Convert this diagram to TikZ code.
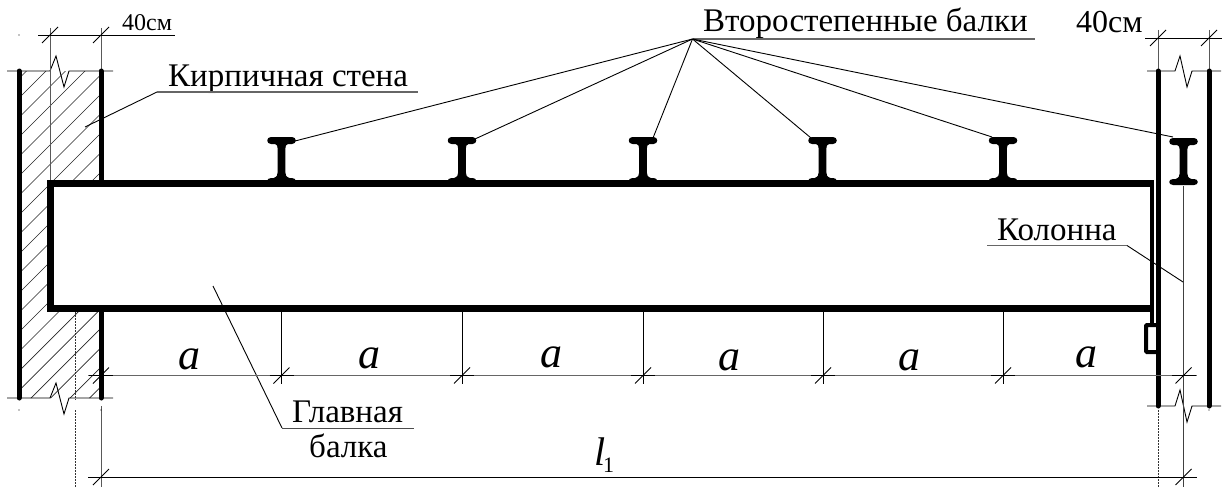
\documentclass[tikz,border=0pt]{standalone}
\usepackage{fontspec}
\setmainfont{Liberation Serif}
\newcommand{\ibeam}[4]{% x, ytop, height, name
  \fill[shift={(#1,#2)}] (-10.5,0) -- (10.5,0) .. controls (15.5,0) and (15.5,7) .. (10.5,7) -- (6.5,7)
   .. controls (4.5,7.5) and (3.8,9) .. (3.8,12) -- (3.8,#3-12)
   .. controls (3.8,#3-9) and (4.5,#3-7) .. (8,#3-6) -- (10.5,#3-6)
   .. controls (15.5,#3-6) and (15.5,#3) .. (10.5,#3) -- (-10.5,#3)
   .. controls (-15.5,#3) and (-15.5,#3-6) .. (-10.5,#3-6) -- (-8,#3-6)
   .. controls (-4.5,#3-7) and (-3.8,#3-9) .. (-3.8,#3-12) -- (-3.8,12)
   .. controls (-3.8,9) and (-4.5,7.5) .. (-6.5,7) -- (-10.5,7)
   .. controls (-15.5,7) and (-15.5,0) .. (-10.5,0) -- cycle;
  \coordinate (#4) at (#1,#2);}
\newcommand{\dimtick}[2]{\draw[thinline] (#1-8,#2+8) -- (#1+8,#2-8);}
\tikzset{
  wall/.style={line width=5pt,line cap=round},
  beamline/.style={line width=7pt,line join=miter},
  thinline/.style={line width=0.9pt,black},
  extline/.style={line width=1pt,black!65},
  ulgray/.style={line width=1.1pt,black!60},
  dotline/.style={line width=0.8pt,dash pattern=on 1.6pt off 1.4pt,black!80},
  hatchline/.style={line width=0.7pt,black!85},
  lab/.style={inner sep=0pt,anchor=base west,font=\fontsize{33}{33}\selectfont},
  ital/.style={inner sep=0pt,anchor=base,font=\fontsize{44}{44}\selectfont\itshape}
}
\begin{document}
\begin{tikzpicture}[x=1pt,y=-1pt]
\useasboundingbox (0,0) rectangle (1225,487);
\fill[white] (0,0) rectangle (1225,487);
% hatch
\begin{scope}
\clip (21,71) -- (99,71) -- (99,181) -- (47,181) -- (47,311) -- (99,311) -- (99,398) -- (21,398) -- cycle;
\foreach \k in {0,...,20} {
  \pgfmathsetmacro{\c}{97.5+19.5*\k}
  \draw[hatchline] (0,\c) -- (\c,0);
}
\end{scope}
% break lines
\draw[thinline] (7,71) -- (50,71) -- (56,56) -- (64,87) -- (69,71) -- (113,71);
\draw[thinline] (7,398) -- (50,398) -- (56,383) -- (64,414) -- (69,398) -- (113,398);
\draw[thinline] (1147,71) -- (1175,71) -- (1180,56) -- (1187,87) -- (1192,71) -- (1221,71);
\draw[thinline] (1147,406) -- (1175,406) -- (1180,390) -- (1187,422) -- (1192,406) -- (1221,406);
% extension lines
\draw[extline] (50,28) -- (50,183);
\draw[extline] (101,28) -- (101,71);
\draw[extline] (101,406) -- (101,487);
\draw[extline] (1158,30) -- (1158,71);
\draw[extline] (1209,30) -- (1209,71);
\draw[thinline,black!75] (1183.5,186) -- (1183.5,487);
\foreach \x in {281.5,462,643,823,1003} \draw[thinline] (\x,312) -- (\x,384);
\draw[dotline] (75,312) -- (75,400);
\draw[dotline] (75,410) -- (75,487);
\draw[dotline] (1158,410) -- (1158,487);
\fill (19,35) circle (0.6);
\fill (19,410) circle (0.6);
\fill (101,410) circle (0.6);
\fill (1209,410) circle (0.6);
% walls and columns
\draw[wall] (19,71) -- (19,398);
\draw[wall] (101,71) -- (101,183);
\draw[wall] (101,310) -- (101,398);
\draw[wall] (1158,71) -- (1158,406);
\draw[wall] (1209,71) -- (1209,406);
% leader behind the beam
\coordinate (glA) at (213,286);
\coordinate (glB) at (282,428);
\coordinate (glC) at (414,428);
\draw[thinline] (glA) -- (glB);
\draw[thinline,black!70] (glB) -- (glC);
% main beam
\draw[beamline] (1152,183.5) -- (50,183.5) -- (50,308.5) -- (1152,308.5);
\draw[line width=4pt] (1152,180) -- (1152,325);
\draw[line width=4pt,rounded corners=1pt] (1158,325) -- (1146,325) -- (1146,352) -- (1158,352);
% secondary beams
\ibeam{281.5}{137}{47}{ib1}
\ibeam{462}{137}{47}{ib2}
\ibeam{643}{137}{47}{ib3}
\ibeam{822.5}{137}{47}{ib4}
\ibeam{1003}{137}{47}{ib5}
\ibeam{1183.5}{138}{47}{ib6}
% labels
\node[lab] (vb) at (703,32) {Второстепенные балки};
\node[lab] (ks) at (168,86) {Кирпичная стена};
\node[lab] (kl) at (997,240) {Колонна};
\node[lab] (gl) at (292,422) {Главная};
\node[lab] (bl) at (309,457) {балка};
\node[lab,font=\fontsize{32}{32}\selectfont] (d2) at (1076,33) {40см};
\node[lab,font=\fontsize{24}{24}\selectfont] (d1) at (122,31) {40см};
% leaders
\coordinate (apex) at (692.5,39);
\coordinate (vbEnd) at (1035,39);
\draw[ulgray] (apex) -- (vbEnd);
\draw[thinline] (apex) -- (295,141);
\draw[thinline] (apex) -- (475,139);
\draw[thinline] (apex) -- (653,138);
\draw[thinline] (apex) -- (811,138);
\draw[thinline] (apex) -- (992,137);
\draw[thinline] (apex) -- (1173,137);
\coordinate (ksA) at (157,92);
\draw[thinline] (85,127) -- (ksA);
\draw[ulgray] (ksA) -- (418,92);
\coordinate (klA) at (1127,245.5);
\draw[ulgray] (987,245.5) -- (klA);
\draw[thinline] (klA) -- (1183,282);
% dimension lines
\draw[thinline] (38,35) -- (175,35);
\dimtick{50}{35}\dimtick{101}{35}
\draw[thinline] (1145,38) -- (1222,38);
\dimtick{1158}{38}\dimtick{1209}{38}
\draw[ulgray] (88,375.5) -- (1197,375.5);
\foreach \x in {101,281.5,462,643,823,1003,1183.5} {\dimtick{\x}{375.5}\draw[thinline] (\x-12,375.5) -- (\x+12,375.5);}
\draw[thinline] (88,477) -- (1197,477);
\dimtick{101}{477}\dimtick{1183.5}{477}
% a labels
\node[ital] (a1) at (189,369) {a};
\node[ital] (a2) at (369,368.5) {a};
\node[ital] (a3) at (551.5,367) {a};
\node[ital] (a4) at (729.5,370) {a};
\node[ital] (a5) at (909.5,370) {a};
\node[ital] (a6) at (1086,367) {a};
\node[inner sep=0pt,anchor=base west,font=\fontsize{40}{40}\selectfont\itshape] (l1) at (594,465) {l};
\node[inner sep=0pt,anchor=base west,font=\fontsize{22}{22}\selectfont] (l1sub) at (603,472) {1};
\end{tikzpicture}
\end{document}
